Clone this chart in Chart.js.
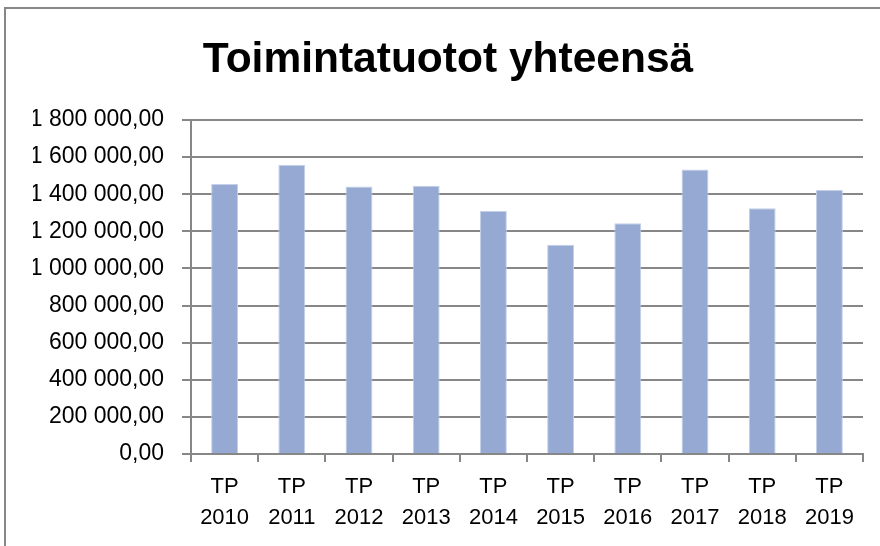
<!DOCTYPE html>
<html>
<head>
<meta charset="utf-8">
<script src="https://cdn.jsdelivr.net/npm/chart.js@4"></script>
<style>
  html, body { margin: 0; padding: 0; background: #fff; }
  #wrap { position: relative; width: 880px; height: 546px; overflow: hidden; }
  #frame { position: absolute; left: 4px; top: 7px; width: 890px; height: 560px; border: 2px solid #878787; box-sizing: border-box; }
  canvas { position: absolute; left: 0; top: 0; }
</style>
</head>
<body>
<div id="wrap">
  <div id="frame"></div>
  <canvas id="chart" width="880" height="546"></canvas>
</div>
<script>
// vuodet ja toimintatuotot
const vuodet = ["2010", "2011", "2012", "2013", "2014", "2015", "2016", "2017", "2018", "2019"];
const tuotot = [1455000, 1558000, 1441000, 1446000, 1310000, 1128000, 1244000, 1533000, 1324000, 1423000];
const yMax = 1800000;
const yStep = 200000;

// "1 800 000,00" muotoilu
function muotoile(v) {
    const s = Math.round(v).toString().replace(/\B(?=(\d{3})+(?!\d))/g, " ");
    return s + ",00";
}

const fontti = "'Liberation Sans', Arial, sans-serif";

new Chart(document.getElementById("chart").getContext("2d"), {
    type: "bar",
    data: {
        labels: vuodet.map((v) => ["TP", v]),
        datasets: [
            {
                label: "Toimintatuotot yhteensä",
                data: tuotot,
                backgroundColor: "#95a9d2",
                borderColor: "#c3d0e8",
                borderWidth: 1,
                categoryPercentage: 1,
                barPercentage: 0.4
            }
        ]
    },
    options: {
        responsive: false,
        animation: false,
        layout: {
            padding: { top: 0, right: 17, bottom: 0, left: 33 }
        },
        plugins: {
            legend: { display: false },
            tooltip: { enabled: false },
            title: {
                display: true,
                text: "Toimintatuotot yhteensä",
                color: "#000",
                font: { family: fontti, size: 42.5, weight: "bold" },
                padding: { top: 35, bottom: 34 }
            }
        },
        scales: {
            x: {
                grid: {
                    offset: true,
                    drawOnChartArea: false,
                    color: "#878787",
                    lineWidth: 2,
                    tickLength: 8
                },
                border: { color: "#878787", width: 2 },
                ticks: {
                    color: "#000",
                    font: { family: fontti, size: 22, lineHeight: 1.42 },
                    padding: 9,
                    maxRotation: 0,
                    autoSkip: false
                },
                afterFit: (s) => { s.height = 92; }
            },
            y: {
                min: 0,
                max: yMax,
                grid: {
                    color: "#878787",
                    lineWidth: 2,
                    tickLength: 9
                },
                border: { color: "#878787", width: 2 },
                ticks: {
                    stepSize: yStep,
                    color: "#000",
                    font: { family: fontti, size: 23 },
                    padding: 18,
                    callback: (v) => muotoile(v)
                },
                afterFit: (s) => { s.width = 158; }
            }
        }
    }
});
</script>
</body>
</html>
